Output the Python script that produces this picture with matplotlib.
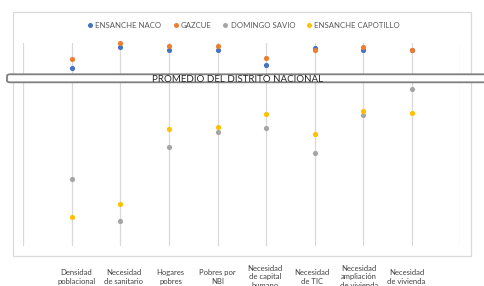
import matplotlib
matplotlib.use("Agg")
import matplotlib.pyplot as plt
import matplotlib.transforms as mtransforms
from matplotlib.patches import FancyBboxPatch, Rectangle
from matplotlib.lines import Line2D

categories = ["Densidad\npoblacional", "Necesidad\nde sanitario", "Hogares\npobres",
              "Pobres por\nNBI", "Necesidad\nde capital\nhumano", "Necesidad\nde TIC",
              "Necesidad\nampliación\nde vivienda", "Necesidad\nde vivienda"]
series_names = ["ENSANCHE NACO", "GAZCUE", "DOMINGO SAVIO", "ENSANCHE CAPOTILLO"]
naco = [88.0, 98.0, 96.8, 96.8, 89.4, 97.5, 96.8, 96.7]
gazcue = [92.1, 100.0, 98.7, 98.7, 92.6, 96.5, 98.2, 96.7]
savio = [32.8, 12.4, 48.6, 56.2, 58.3, 45.7, 64.4, 77.3]
capotillo = [14.2, 20.5, 57.5, 58.8, 64.9, 55.2, 66.7, 65.4]
promedio_label = "PROMEDIO DEL DISTRITO NACIONAL"

colors = ["#4472C4", "#ED7D31", "#A5A5A5", "#FFC000"]
FONT = ["Lato", "DejaVu Sans"]
plt.rcParams["font.family"] = FONT

W, H = 485, 286
fig = plt.figure(figsize=(W / 100, H / 100), dpi=100)

def fx(px):
    return px / W

def fy(py):
    return 1 - py / H

# chart area border
fig.patches.append(Rectangle((fx(12.7), fy(255.7)), fx(471 - 12.7), (255.7 - 11.7) / H,
                             transform=fig.transFigure, fill=False,
                             edgecolor="#D9D9D9", linewidth=0.9, zorder=0))

ax = fig.add_axes([fx(23.3), fy(245.7), fx(460.3 - 23.3), (245.7 - 43.3) / H])
ax.set_xlim(-1, 8)
ax.set_ylim(0, 100)
for s in ax.spines.values():
    s.set_visible(False)
ax.set_xticks(range(-1, 9))
ax.set_yticks([])
ax.tick_params(axis="x", length=0, labelbottom=False)
ax.grid(axis="x", color="#D9D9D9", linewidth=0.9)
ax.set_axisbelow(True)
ax.patch.set_alpha(0)

xs = list(range(len(categories)))
for vals, c in zip([naco, gazcue, savio, capotillo], colors):
    ax.scatter(xs, vals, s=14, color=c, zorder=3, clip_on=False, linewidths=0)

# category labels
lab_tr = mtransforms.blended_transform_factory(ax.transData, fig.transFigure)
for i, lab in enumerate(categories):
    lx = 0.09 + i * 0.9714
    ax.text(lx, fy(277), lab, transform=lab_tr,
            ha="center", va="center", fontsize=5.5, color="#404040",
            linespacing=1.3, clip_on=False)

# legend
handles = [Line2D([], [], marker="o", linestyle="none", markersize=3.6,
                  markerfacecolor=c, markeredgewidth=0) for c in colors]
fig.legend(handles, series_names, loc="center", bbox_to_anchor=(fx(244), fy(25)),
           ncol=4, frameon=False, fontsize=5.6, handletextpad=0.35,
           columnspacing=1.5, handlelength=0.6, labelcolor="#595959")

# promedio box
box = FancyBboxPatch((fx(7), fy(82.3)), fx(495 - 7), 8.0 / H,
                     boxstyle="round,pad=0,rounding_size=0.006",
                     transform=fig.transFigure, facecolor="white",
                     edgecolor="#7F7F7F", linewidth=1.3, zorder=2, clip_on=False)
fig.patches.append(box)
fig.text(fx(237.5), fy(79.0), promedio_label, ha="center", va="center",
         fontsize=7.0, color="#262626", zorder=3)

fig.savefig("out.png", dpi=100)
